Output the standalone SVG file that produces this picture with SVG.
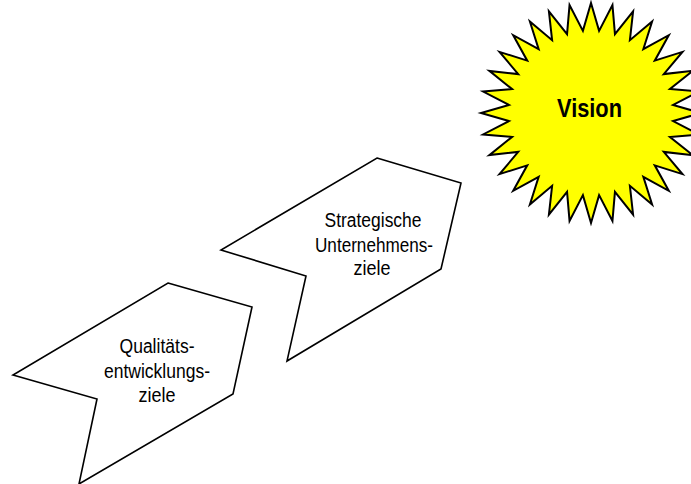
<svg xmlns="http://www.w3.org/2000/svg" width="691" height="484" viewBox="0 0 691 484">
<style>
.shape{fill:#ffffff;stroke:#000000;stroke-width:1.6;stroke-linejoin:miter}
.lbl{font-family:"Liberation Sans",Arial,sans-serif;font-size:20px;fill:#000000;text-anchor:middle}
.vis{font-family:"Liberation Sans",Arial,sans-serif;font-weight:bold;font-size:25px;fill:#000000;text-anchor:middle}
</style>
<rect width="691" height="484" fill="#ffffff"/>
<g id="qualitaet">
<polygon class="shape" points="168,283 252,307 233,394 79,484 97,399 13,375"/>
<text class="lbl" x="157" y="353" textLength="75" lengthAdjust="spacingAndGlyphs">Qualitäts-</text>
<text class="lbl" x="157" y="378" textLength="106" lengthAdjust="spacingAndGlyphs">entwicklungs-</text>
<text class="lbl" x="157" y="402" textLength="37" lengthAdjust="spacingAndGlyphs">ziele</text>
</g>
<g id="strategie">
<polygon class="shape" points="377,158 461,183 441,269 287,361 306,276 221,250"/>
<text class="lbl" x="373" y="227" textLength="97" lengthAdjust="spacingAndGlyphs">Strategische</text>
<text class="lbl" x="374" y="252" textLength="118" lengthAdjust="spacingAndGlyphs">Unternehmens-</text>
<text class="lbl" x="372" y="275" textLength="37" lengthAdjust="spacingAndGlyphs">ziele</text>
</g>
<g id="vision">
<polygon transform="translate(591,113)" fill="#ffff00" stroke="#000000" stroke-width="2" stroke-linejoin="miter" points="0,-110 8.09,-82.10 21.46,-107.89 23.95,-78.95 42.10,-101.63 38.89,-72.76 61.11,-91.46 52.34,-63.77 77.78,-77.78 63.77,-52.34 91.46,-61.11 72.76,-38.89 101.63,-42.10 78.95,-23.95 107.89,-21.46 82.10,-8.09 110,0 82.10,8.09 107.89,21.46 78.95,23.95 101.63,42.10 72.76,38.89 91.46,61.11 63.77,52.34 77.78,77.78 52.34,63.77 61.11,91.46 38.89,72.76 42.10,101.63 23.95,78.95 21.46,107.89 8.09,82.10 0,110 -8.09,82.10 -21.46,107.89 -23.95,78.95 -42.10,101.63 -38.89,72.76 -61.11,91.46 -52.34,63.77 -77.78,77.78 -63.77,52.34 -91.46,61.11 -72.76,38.89 -101.63,42.10 -78.95,23.95 -107.89,21.46 -82.10,8.09 -110,0 -82.10,-8.09 -107.89,-21.46 -78.95,-23.95 -101.63,-42.10 -72.76,-38.89 -91.46,-61.11 -63.77,-52.34 -77.78,-77.78 -52.34,-63.77 -61.11,-91.46 -38.89,-72.76 -42.10,-101.63 -23.95,-78.95 -21.46,-107.89 -8.09,-82.10"/>
<text class="vis" x="589.5" y="117" textLength="65" lengthAdjust="spacingAndGlyphs">Vision</text>
</g>
</svg>
